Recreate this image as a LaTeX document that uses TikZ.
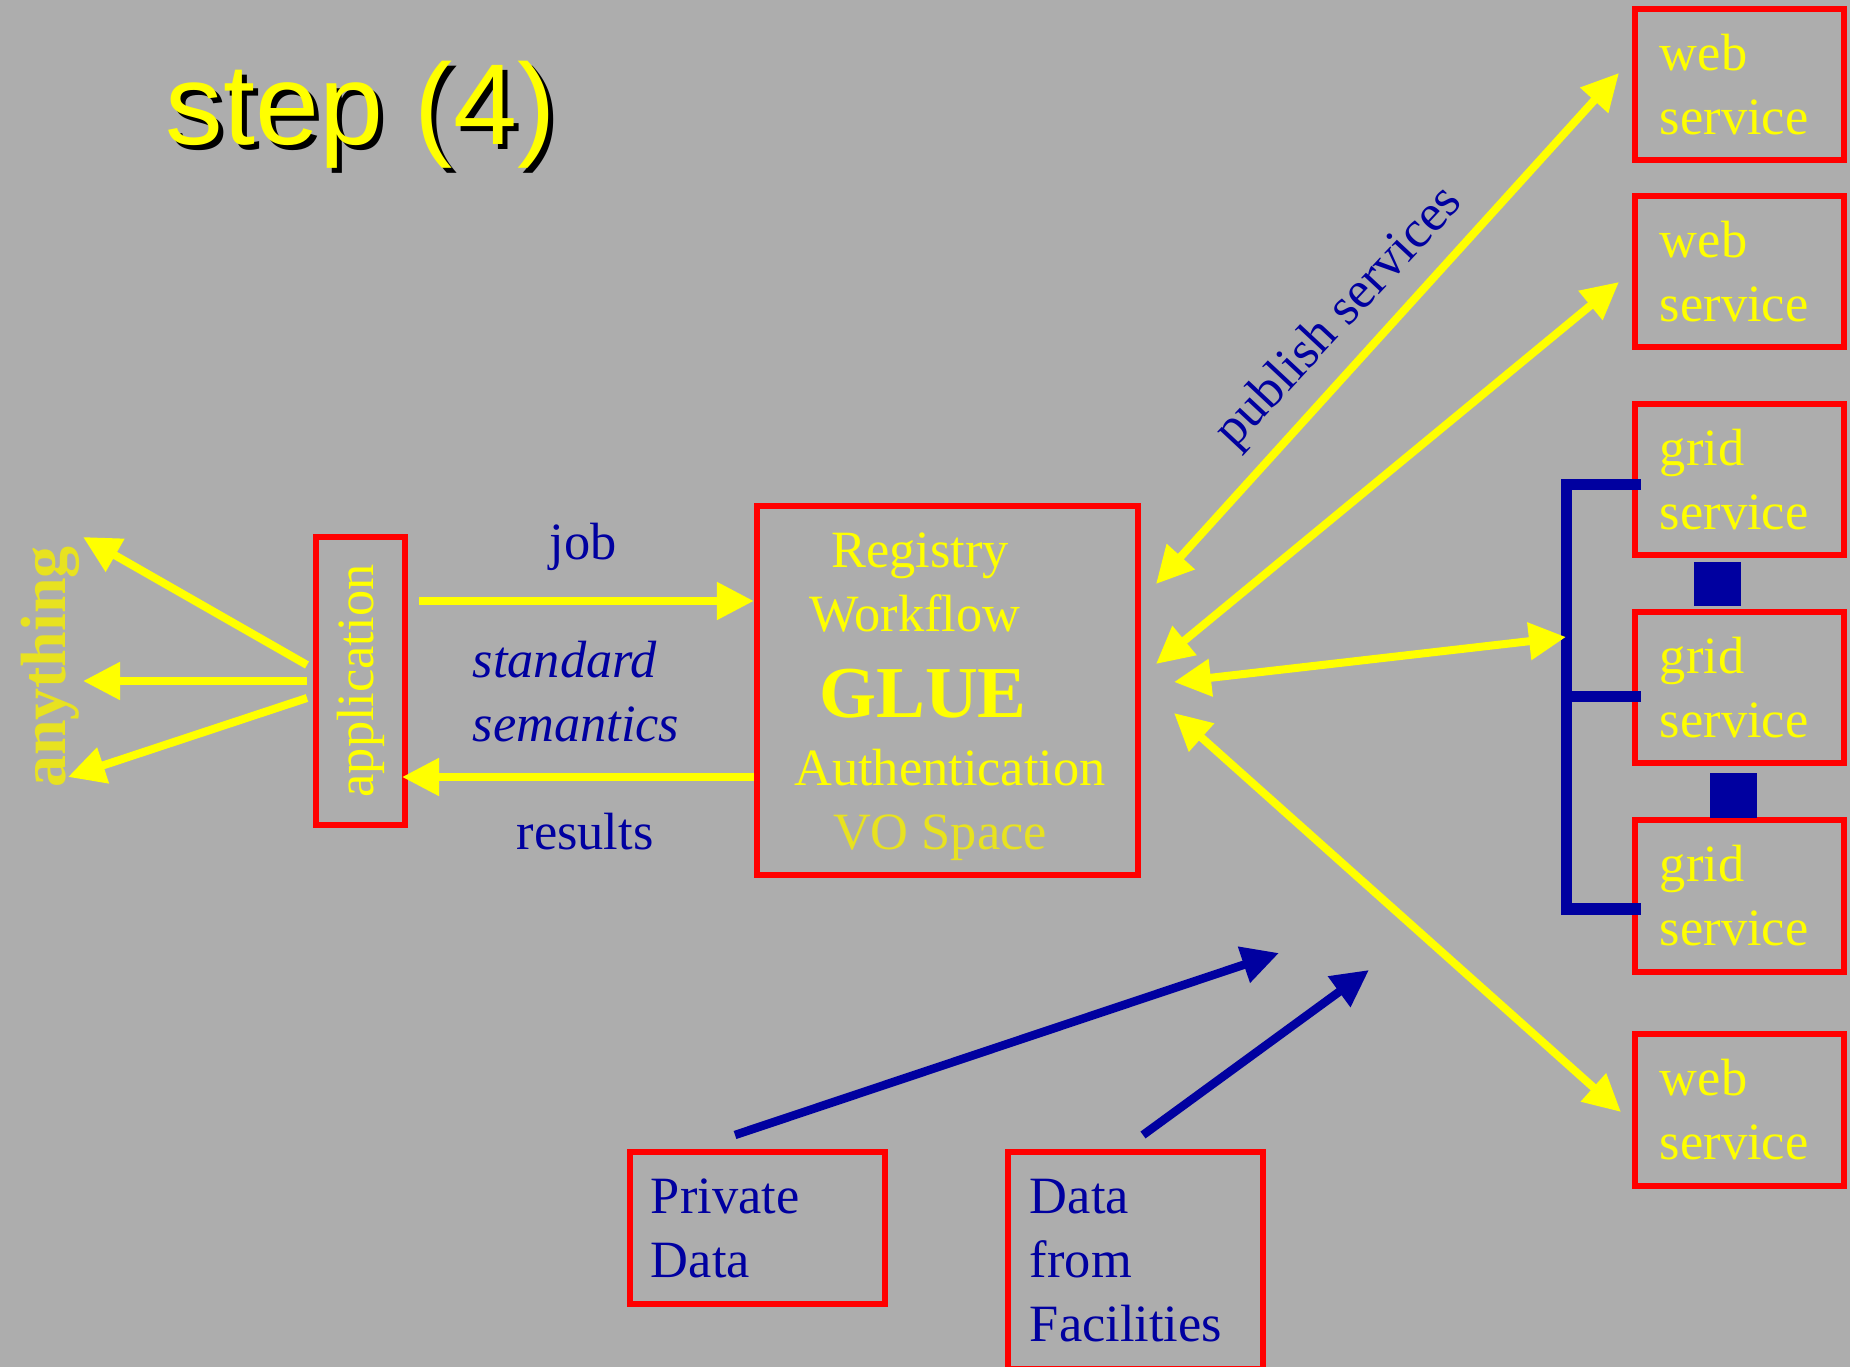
\documentclass[tikz,border=0pt]{standalone}
\usepackage{fontspec}
\setmainfont{Liberation Serif}
\newfontfamily\titlefont{Liberation Sans}
\usetikzlibrary{arrows.meta,calc}

\definecolor{bggray}{RGB}{173,173,173}
\definecolor{voyellow}{RGB}{255,255,0}
\definecolor{dimyellow}{RGB}{232,226,32}
\definecolor{vored}{RGB}{255,0,0}
\definecolor{voblue}{RGB}{0,0,160}

\newcommand{\txtsize}{\fontsize{14.9}{18.2}\selectfont}
\newcommand{\gluesize}{\fontsize{20.8}{24}\selectfont}
\newcommand{\anysize}{\fontsize{18.2}{22}\selectfont}
\newcommand{\titlesize}{\fontsize{32.7}{38}\selectfont}

\tikzset{
  bigtip/.tip={Triangle[length=0.37cm,width=0.36cm]},
  redbox/.style={draw=vored, line width=0.06cm, inner sep=0pt},
  servicebox/.style={redbox, minimum width=2.09cm, minimum height=1.51cm,
    text width=1.59cm, align=left, font=\txtsize, text=voyellow},
  databox/.style={redbox, align=left, font=\txtsize, text=voblue},
  yarrow/.style={draw=voyellow, line width=0.08cm, -bigtip},
  ydouble/.style={yarrow, bigtip-bigtip},
  barrow/.style={draw=voblue, line width=0.085cm, -bigtip},
  bracket/.style={draw=voblue, line width=0.11cm},
  link/.style={fill=voblue, minimum width=0.47cm, minimum height=0.44cm, inner sep=0pt},
  bluelabel/.style={text=voblue, font=\txtsize},
  gluetext/.style={text=voyellow, font=\txtsize, anchor=base, inner sep=0pt},
}

\begin{document}
\begin{tikzpicture}[x=0.01cm, y=-0.01cm]
\useasboundingbox (0,0) rectangle (1850,1367);
\fill[bggray] (0,0) rectangle (1850,1367);

% title with shadow
\node[anchor=base west, inner sep=0pt, font=\titlefont\titlesize, text=black] (titleshadow) at (170,150) {step (4)};
\node[anchor=base west, inner sep=0pt, font=\titlefont\titlesize, text=voyellow] (title) at (165,145) {step (4)};

% the glue box
\node[redbox, minimum width=3.81cm, minimum height=3.69cm] (glue) at (947.5,690.5) {};
\node[gluetext] (registry) at (920,568) {Registry};
\node[gluetext] (workflow) at (915,632) {Workflow};
\node[gluetext, font=\gluesize\bfseries] (gluelbl) at (923,718) {GLUE};
\node[gluetext] (auth) at (950,786) {Authentication};
\node[gluetext, text=dimyellow] (vospace) at (940,850) {VO Space};

% application and what it talks to
\node[redbox, rotate=90, minimum width=2.88cm, minimum height=0.89cm, font=\txtsize, text=voyellow] (app) at (360.5,681) {application};
\node[rotate=90, font=\anysize\bfseries, text=dimyellow] (anything) at (50,667) {anything};

% services on the right
\node[servicebox] (web1) at (1739.5,84.5) {web\\service};
\node[servicebox] (web2) at (1739.5,271.5) {web\\service};
\node[servicebox] (grid1) at (1739.5,479.5) {grid\\service};
\node[servicebox] (grid2) at (1739.5,687.5) {grid\\service};
\node[servicebox] (grid3) at (1739.5,896) {grid\\service};
\node[servicebox] (web4) at (1739.5,1110) {web\\service};
\node[link] (link1) at (1717.5,584) {};
\node[link] (link2) at (1733.5,795.5) {};

% data at the bottom
\node[databox, text width=2.13cm, minimum width=2.55cm, minimum height=1.52cm] (private) at (757.5,1228) {Private\\Data};
\node[databox, text width=2.11cm, minimum width=2.55cm, minimum height=2.17cm] (facilities) at (1135.5,1260.5) {Data\\from\\Facilities};

% labels
\node[bluelabel, anchor=base] (job) at (583,560) {job};
\node[bluelabel, anchor=west, inner sep=0pt, align=left, font=\txtsize\itshape] (sem) at (472,692) {standard\\semantics};
\node[bluelabel, anchor=base] (results) at (585,850) {results};
\node[bluelabel, rotate=47] (publish) at (1340,318) {publish services};

% job and results
\coordinate (jobstart) at (419,601);
\coordinate (resend) at (402,777);
\draw[yarrow] (jobstart) -- (jobstart -| glue.west);
\draw[yarrow] (resend -| glue.west) -- (resend);

% application to anything
\coordinate (appout1) at (307,665);
\coordinate (appout2) at (307,681);
\coordinate (appout3) at (307,698);
\coordinate (anytip1) at (83,537);
\coordinate (anytip2) at (83,681);
\coordinate (anytip3) at (68,777);
\foreach \i in {1,2,3}
  \draw[yarrow] (appout\i) -- (anytip\i);

% grid bracket
\coordinate (brtop) at (1566,485);
\coordinate (brmid) at (1566,697);
\coordinate (brbot) at (1566,909);
\coordinate (brtip) at (1566,637);
\draw[bracket] ($(brtop -| grid1.west)+(9,0)$) -- (brtop) -- (brbot) -- ($(brbot -| grid3.west)+(9,0)$);
\draw[bracket] (brmid) -- ($(brmid -| grid2.west)+(9,0)$);

% glue to the services
\coordinate (hub1) at (1156,584);
\coordinate (hub2) at (1156,664);
\coordinate (hub3) at (1174,682);
\coordinate (hub4) at (1174,713);
\coordinate (web1tip) at (1619,73);
\coordinate (web2tip) at (1619,282);
\coordinate (web4tip) at (1621,1112);
\draw[ydouble] (hub1) -- (web1tip);
\draw[ydouble] (hub2) -- (web2tip);
\draw[ydouble] (hub3) -- (brtip);
\draw[ydouble] (hub4) -- (web4tip);

% data into the glue
\coordinate (pdstart) at (735,1135);
\coordinate (pdtip) at (1279,953);
\coordinate (facstart) at (1143,1135);
\coordinate (factip) at (1369,970);
\draw[barrow] (pdstart) -- (pdtip);
\draw[barrow] (facstart) -- (factip);
\end{tikzpicture}
\end{document}
